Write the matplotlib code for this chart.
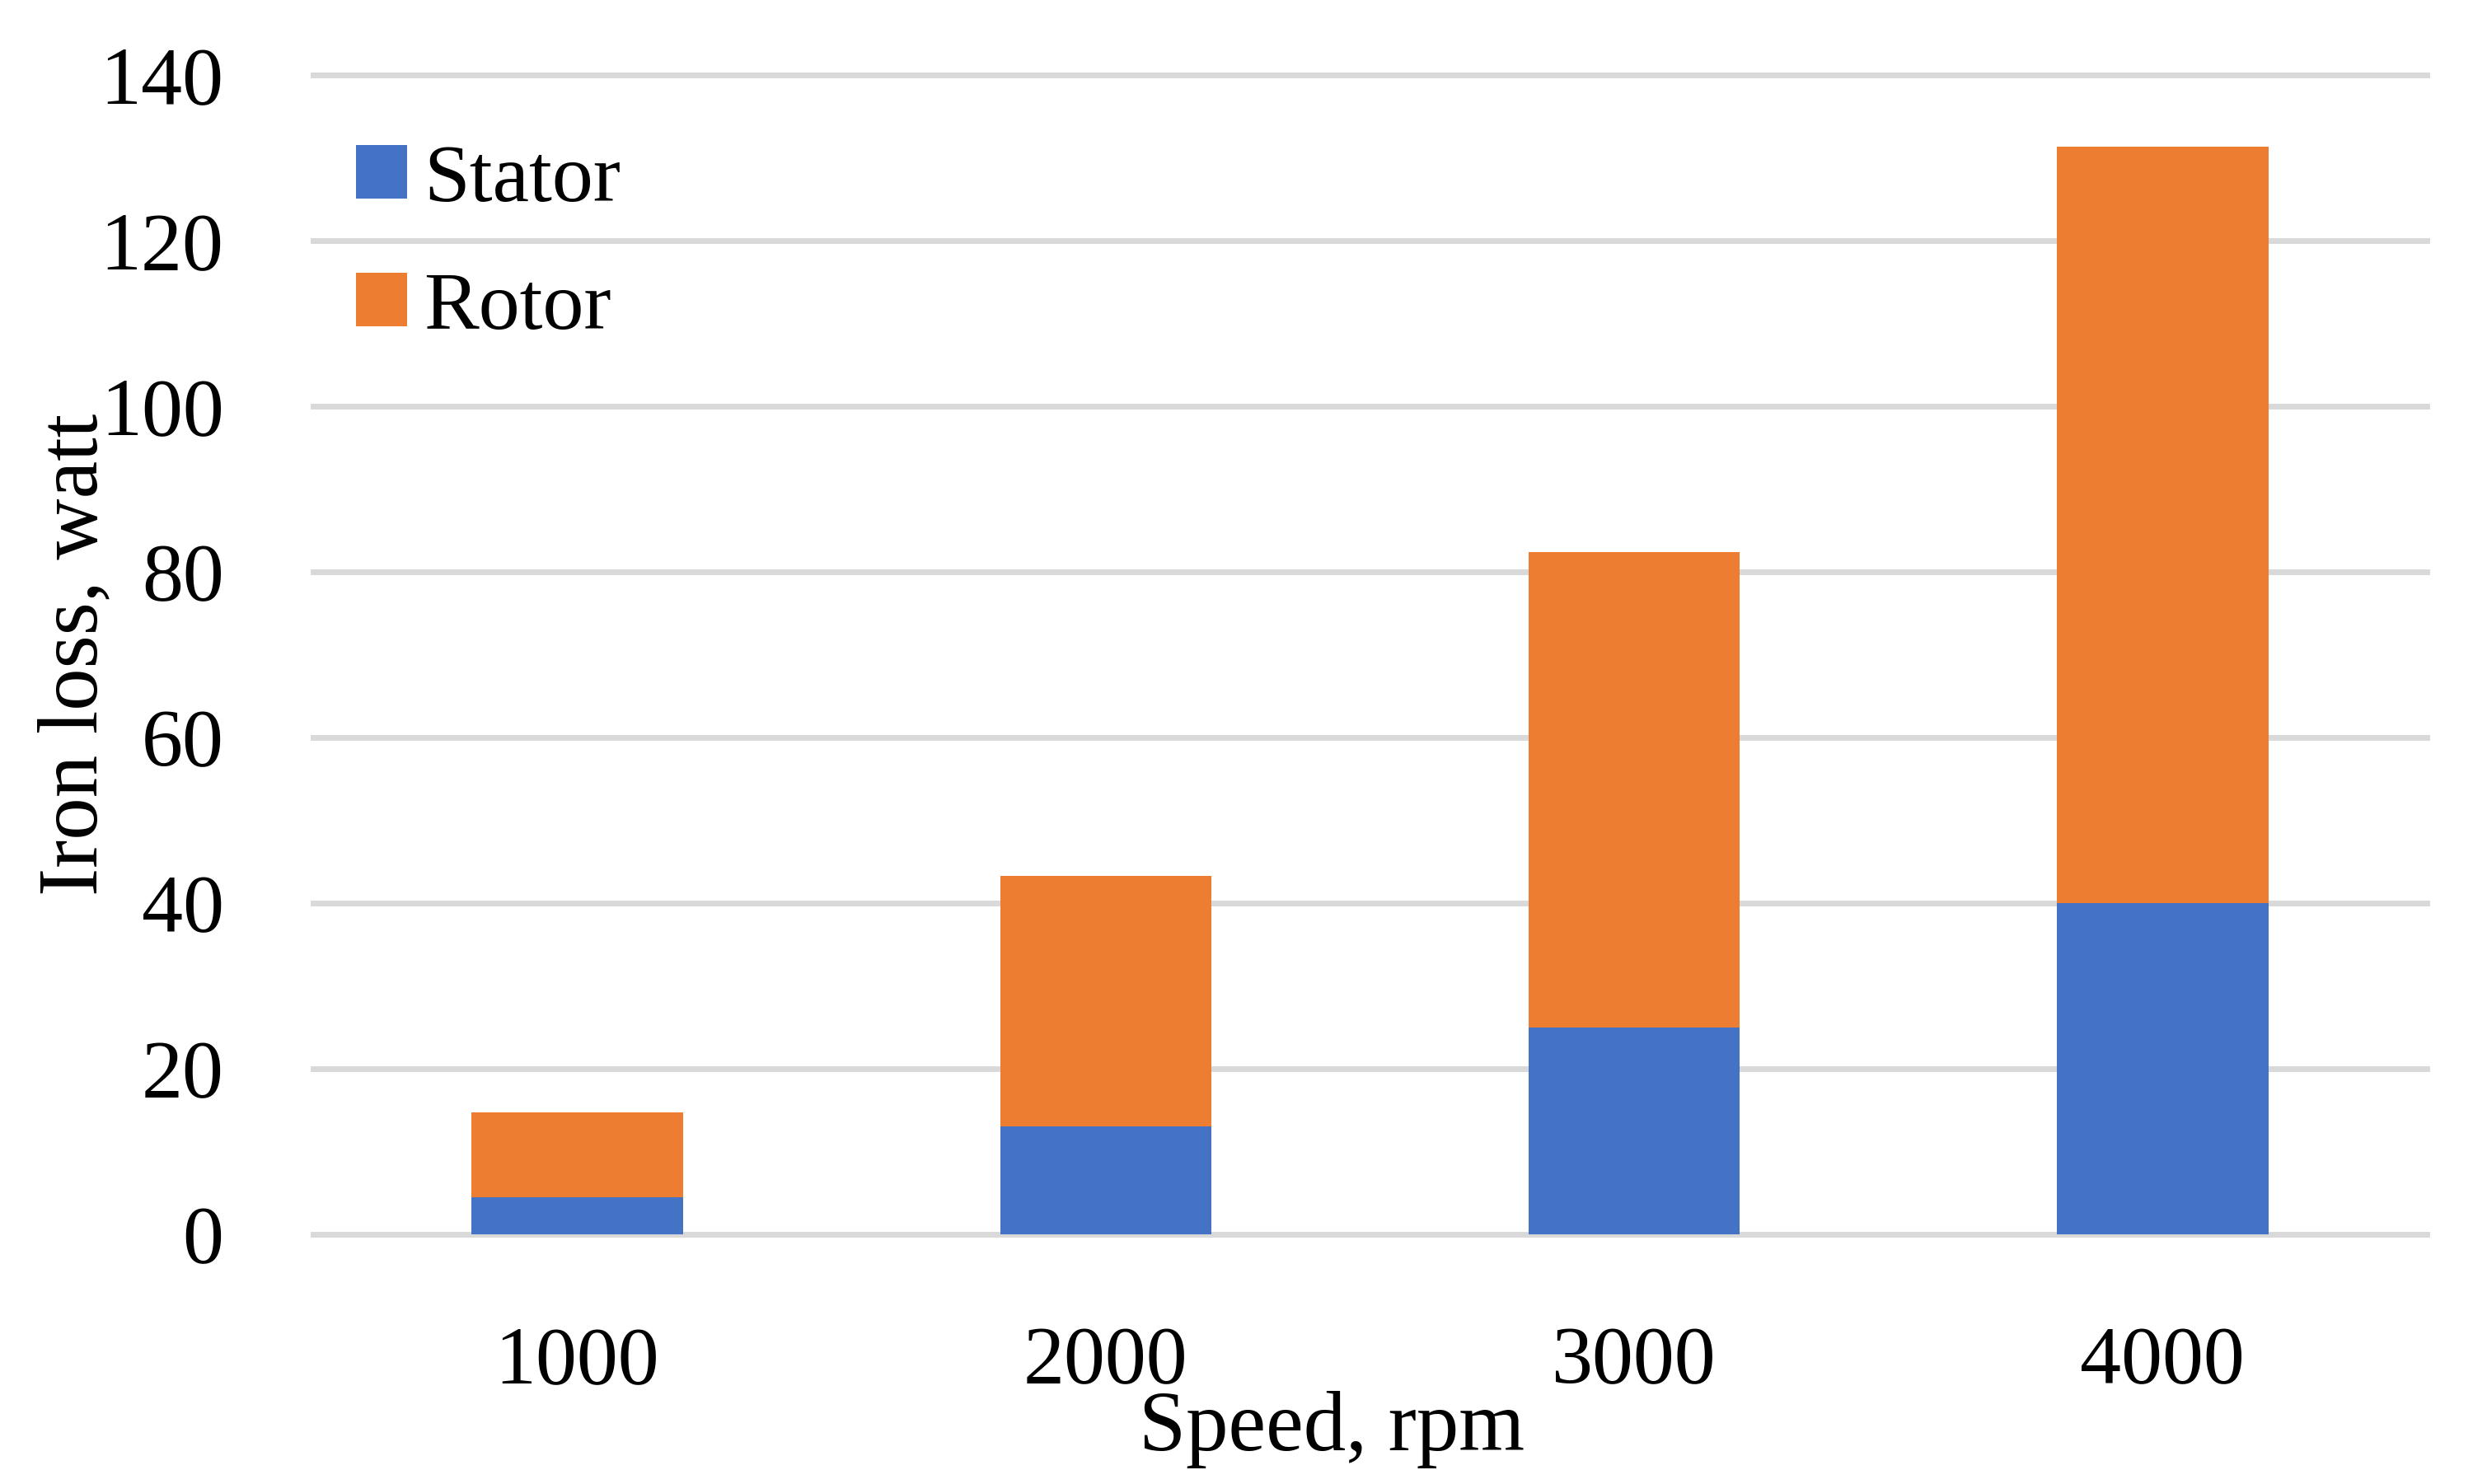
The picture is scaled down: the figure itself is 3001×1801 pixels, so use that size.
import numpy as np
import matplotlib
matplotlib.use("Agg")
import matplotlib.pyplot as plt

# Iron loss data (watt)
speeds = ["1000", "2000", "3000", "4000"]
stator = [4.5, 13.0, 25.0, 40.0]
rotor = [10.2, 30.3, 57.4, 91.3]
yticks = [0, 20, 40, 60, 80, 100, 120, 140]

plt.rcParams['font.family'] = ['Liberation Serif', 'DejaVu Serif']

fig = plt.figure(figsize=(30.01, 18.01), dpi=100)
ax = fig.add_axes([0.1266, 0.1682, 0.8547, 0.7813])

x = np.arange(len(speeds))
width = 0.4

ax.bar(x, stator, width, color='#4472C4', label='Stator', zorder=3)
ax.bar(x, rotor, width, bottom=stator, color='#ED7D31', label='Rotor', zorder=3)

# Axes limits and ticks
ax.set_xlim(-0.5, len(speeds) - 0.5)
ax.set_ylim(0, 140)
ax.set_xticks(x)
ax.set_xticklabels(speeds)
ax.set_yticks(yticks)
ax.tick_params(axis='both', length=0, labelsize=72)
ax.tick_params(axis='y', pad=78)
ax.tick_params(axis='x', pad=80)

# Grid, no frame
ax.yaxis.grid(True, color='#D9D9D9', linewidth=5)
for gl in ax.get_ygridlines():
    gl.set_clip_on(False)
ax.set_axisbelow(True)
for s in ax.spines.values():
    s.set_visible(False)

ax.set_xlabel("Speed, rpm", fontsize=74)
ax.xaxis.set_label_coords(0.482, -0.135)
ax.set_ylabel("Iron loss, watt", fontsize=74)
ax.yaxis.set_label_coords(-0.094, 0.5)

ax.legend(loc='upper left', bbox_to_anchor=(-0.007, 0.99), frameon=False,
          fontsize=72, handlelength=0.62, handleheight=0.62,
          handletextpad=0.2, labelspacing=0.65, borderaxespad=0.3)

plt.savefig("out.png", dpi=100)
